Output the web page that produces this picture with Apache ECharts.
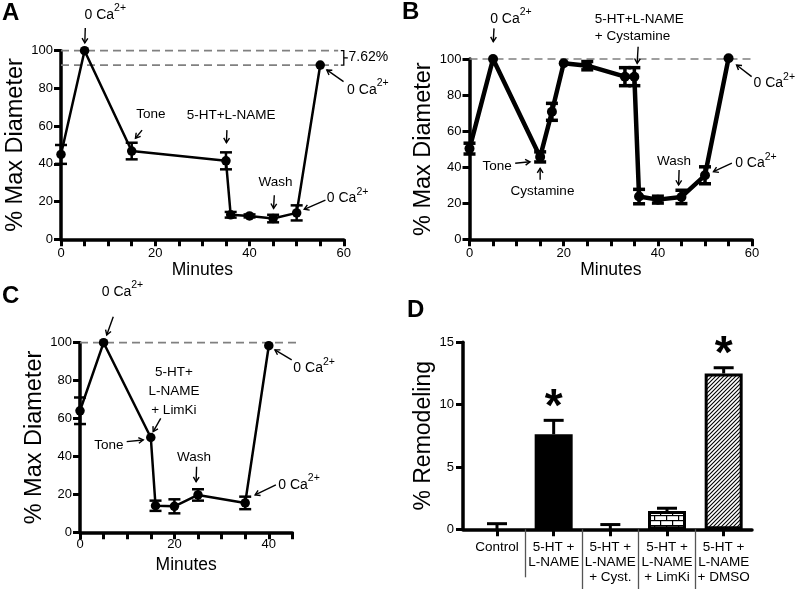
<!DOCTYPE html>
<html><head><meta charset="utf-8">
<script src="https://cdn.jsdelivr.net/npm/echarts@6/dist/echarts.min.js"></script>
<style>html,body{margin:0;padding:0;background:#fff}#c{width:798px;height:589px}</style>
</head><body><div id="c"></div>
<script>
// ---------------- data ----------------
const minutesA = [0, 5, 15, 35, 36, 40, 45, 50, 55];
const diamA    = [45, 100, 46.8, 41.6, 13, 12.4, 11, 14, 92.4];
const errA     = [5, 0, 4.4, 4.5, 1.5, 0.8, 2, 4, 0];

const minutesB = [0, 5, 15, 17.5, 20, 25, 33, 35, 36, 40, 45, 50, 55];
const diamB    = [50.3, 100, 45.7, 70.7, 97.6, 96.3, 90.2, 90.2, 23.7, 22, 23.5, 35.5, 100.4];
const errB     = [3, 0, 2.8, 4.7, 0, 2.3, 5, 5, 4, 1.9, 3.7, 4.7, 0];

const minutesC = [0, 5, 15, 16, 20, 25, 35, 40];
const diamC    = [64.1, 100, 50, 14, 13.7, 19.7, 15.5, 98.4];
const errC     = [7, 0, 0, 2.7, 3.7, 3, 3.3, 0];

const groupsD   = ['Control', '5-HT +\nL-NAME', '5-HT +\nL-NAME\n+ Cyst.', '5-HT +\nL-NAME\n+ LimKi', '5-HT +\nL-NAME\n+ DMSO'];
const remodelD  = [0, 7.62, 0, 1.47, 12.5];
const errD      = [0.45, 1.12, 0.38, 0.22, 0.46];
const sigD      = [false, true, false, false, true];

const refLevelsA = [100, 92.38];   // dashed reference levels (A)
const refLevelB  = [100];
const refLevelC  = [100];
const gapLabelA  = '7.62%';

const yTicksPct  = [0, 20, 40, 60, 80, 100];
const yTicksD    = [0, 5, 10, 15];
const xTicks60   = [0, 5, 10, 15, 20, 25, 30, 35, 40, 45, 50, 55, 60];
const xTicks45   = [0, 5, 10, 15, 20, 25, 30, 35, 40, 45];
const xLabels60  = [0, 20, 40, 60];
const xLabels45  = [0, 20, 40];
const xTicksD    = [0, 1, 2, 3, 4];

// annotation texts (positions in data units)
const notesA = [
  {t: 9.4,  v: 118.9, text: '0 Ca', sup: '2+'},
  {t: 60.7, v: 79.2,  text: '0 Ca', sup: '2+', align: 'left'},
  {t: 56.4, v: 21.7,  text: '0 Ca', sup: '2+', align: 'left'},
  {t: 19.05, v: 66.4, text: 'Tone'},
  {t: 36.1, v: 65.9,  text: '5-HT+L-NAME'},
  {t: 45.5, v: 30.4,  text: 'Wash'},
  {t: 61.0, v: 96.4,  text: gapLabelA, align: 'left', size: 14}
];
const arrowsA = [[5.15,112,5.05,104.1],[17.2,57.9,15.8,53.6],[35.2,57.9,35.1,51.2],[45.25,23.4,45.1,16.4],[56.1,20.8,51.6,15.9],[59.95,83.6,56.4,89.8]];

const notesB = [
  {t: 8.8,  v: 122.2, text: '0 Ca', sup: '2+'},
  {t: 60.3, v: 86.5,  text: '0 Ca', sup: '2+', align: 'left'},
  {t: 56.4, v: 42.2,  text: '0 Ca', sup: '2+', align: 'left'},
  {t: 26.6, v: 117.5, text: '5-HT+L-NAME\n+ Cystamine', align: 'left', lh: 17},
  {t: 5.85, v: 40.7,  text: 'Tone'},
  {t: 15.5, v: 26.8,  text: 'Cystamine'},
  {t: 43.4, v: 43.4,  text: 'Wash'}
];
const arrowsB = [[5.2,117,5.05,109.6],[35.8,106.8,35.6,97.6],[59.9,90.2,56.7,96.7],[9.7,42.2,12.85,43],[15,33,15,39.4],[44.5,38.4,44.4,30.1],[55.7,42.2,51.8,37.5]];

const notesC = [
  {t: 9.0,  v: 126.9, text: '0 Ca', sup: '2+'},
  {t: 45.2, v: 86.5,  text: '0 Ca', sup: '2+', align: 'left'},
  {t: 42.0, v: 24.9,  text: '0 Ca', sup: '2+', align: 'left'},
  {t: 19.9, v: 74.6,  text: '5-HT+\nL-NAME\n+ LimKi', lh: 19},
  {t: 6.1,  v: 46,    text: 'Tone'},
  {t: 24.15, v: 39.5, text: 'Wash'}
];
const arrowsC = [[7.05,113.7,5.66,104.1],[17.1,60.1,15.5,53.1],[9.9,47.8,13.4,48.7],[24.7,34.6,24.6,26.7],[41.5,25,37.1,19.7],[44.85,90.9,41.3,96.2]];

// ---------------- helpers ----------------
const FONT = '"Liberation Sans", Arial, Helvetica, sans-serif';
const zip = (...arrs) => arrs[0].map((_, i) => arrs.map(a => a[i]));

function grid(left, top, width, height) {
  return {left, top, width, height, containLabel: false, outerBoundsMode: 'none'};
}
function axisLine() { return {show: true, onZero: false, lineStyle: {color: '#000', width: 3.5}}; }
function ticks(vals) {
  return {show: true, inside: false, length: 7, lineStyle: {color: '#000', width: 3}, customValues: vals};
}

function minutesAxis(gi, max, tickVals, labelVals, gap, margin) {
  return {type: 'value', gridIndex: gi, min: 0, max: max, interval: 5, position: 'bottom',
    name: 'Minutes', nameLocation: 'middle', nameGap: gap,
    nameTextStyle: {fontSize: 17.5, color: '#000', fontFamily: FONT},
    axisLine: axisLine(), axisTick: ticks(tickVals),
    axisLabel: {color: '#000', fontSize: 13, fontFamily: FONT, margin: margin,
      showMinLabel: true, showMaxLabel: true, customValues: labelVals},
    splitLine: {show: false}};
}
function pctAxis(gi) {
  return {type: 'value', gridIndex: gi, min: 0, max: 100, interval: 20, position: 'left',
    name: '% Max Diameter', nameLocation: 'middle', nameGap: 27,
    nameTextStyle: {fontSize: 23.5, color: '#000', fontFamily: FONT},
    axisLine: axisLine(), axisTick: ticks(yTicksPct),
    axisLabel: {color: '#000', fontSize: 13, fontFamily: FONT, margin: 8,
      showMinLabel: true, showMaxLabel: true, customValues: yTicksPct},
    splitLine: {show: false}};
}
function sepAxis(vals, len) {
  return {type: 'value', gridIndex: 3, min: -0.6, max: 4.5, position: 'bottom',
    axisLine: {show: false, onZero: false},
    axisTick: {show: true, inside: false, length: len, lineStyle: {color: '#555', width: 1.3}, customValues: vals},
    axisLabel: {show: false}, splitLine: {show: false}};
}

function errRender(cap, lw, upOnly, sig) {
  return function (params, api) {
    const x = api.value(0), y = api.value(1), e = api.value(2);
    const children = [];
    const top = api.coord([x, y + e]);
    const bot = api.coord([x, upOnly ? y : y - e]);
    const st = {stroke: '#000', lineWidth: lw};
    if (e > 0) {
      children.push({type: 'line', shape: {x1: top[0], y1: top[1], x2: bot[0], y2: bot[1]}, style: st});
      children.push({type: 'line', shape: {x1: top[0] - cap, y1: top[1], x2: top[0] + cap, y2: top[1]}, style: st});
      if (!upOnly) children.push({type: 'line', shape: {x1: bot[0] - cap, y1: bot[1], x2: bot[0] + cap, y2: bot[1]}, style: st});
    }
    if (sig && sig[params.dataIndex]) {
      children.push({type: 'text', x: top[0], y: top[1] - 12,
        style: {text: '*', fill: '#000', fontSize: 46, fontWeight: 'bold', fontFamily: FONT, align: 'center', verticalAlign: 'middle'}});
    }
    return {type: 'group', children: children};
  };
}
function arrowRender(params, api) {
  const p1 = api.coord([api.value(0), api.value(1)]);
  const p2 = api.coord([api.value(2), api.value(3)]);
  const ang = Math.atan2(p2[1] - p1[1], p2[0] - p1[0]);
  const h = 5.5, a = 0.55;
  const l = [p2[0] - h * Math.cos(ang - a), p2[1] - h * Math.sin(ang - a)];
  const r = [p2[0] - h * Math.cos(ang + a), p2[1] - h * Math.sin(ang + a)];
  return {type: 'group', children: [
    {type: 'line', shape: {x1: p1[0], y1: p1[1], x2: p2[0], y2: p2[1]}, style: {stroke: '#000', lineWidth: 1.4}},
    {type: 'polyline', shape: {points: [l, p2, r]}, style: {stroke: '#000', fill: null, lineWidth: 1.4}}
  ]};
}
function noteRender(notes) {
  return function (params, api) {
    const n = notes[params.dataIndex];
    const p = api.coord([api.value(0), api.value(1)]);
    let style;
    if (n.sup) {
      style = {text: '{m|' + n.text + '}{s|' + n.sup + '}',
        rich: {m: {fontSize: 14, fontFamily: FONT, lineHeight: 24, fill: '#000'},
               s: {fontSize: 10.5, fontFamily: FONT, lineHeight: 10, verticalAlign: 'top', fill: '#000'}}};
    } else {
      style = {text: n.text, fontSize: n.size || 13.5, fontFamily: FONT, lineHeight: n.lh || 16};
    }
    style.fill = '#000';
    style.align = n.align || 'center';
    style.verticalAlign = 'middle';
    return {type: 'text', x: p[0], y: p[1], style: style};
  };
}
function dashRender(xEnd) {
  return function (params, api) {
    const v = api.value(0);
    const a = api.coord([0, v]), b = api.coord([xEnd, v]);
    return {type: 'line', shape: {x1: a[0], y1: a[1], x2: b[0], y2: b[1]},
      style: {stroke: '#808080', lineWidth: 1.7, lineDash: [8, 5]}};
  };
}
function bracketRender(params, api) {
  const x = api.value(0), hi = api.value(1), lo = api.value(2);
  const a = api.coord([x, hi]), b = api.coord([x, lo]);
  const m = (a[1] + b[1]) / 2;
  const st = {stroke: '#000', lineWidth: 1.3, fill: null};
  return {type: 'group', children: [
    {type: 'polyline', shape: {points: [[a[0] - 3, a[1]], [a[0], a[1]], [b[0], b[1]], [b[0] - 3, b[1]]]}, style: st},
    {type: 'line', shape: {x1: a[0], y1: m, x2: a[0] + 4, y2: m}, style: st}
  ]};
}

function panelSeries(gi, xs, ys, es, lw, sym, capLw, notes, arrows, refs, dashEnd) {
  return [
    {type: 'custom', xAxisIndex: gi, yAxisIndex: gi, data: refs.map(v => [v]), renderItem: dashRender(dashEnd), z: 1, silent: true},
    {type: 'line', xAxisIndex: gi, yAxisIndex: gi, data: zip(xs, ys), symbol: 'circle', symbolSize: sym,
      lineStyle: {color: '#000', width: lw}, itemStyle: {color: '#000'}, clip: false, z: 3, silent: true},
    {type: 'custom', xAxisIndex: gi, yAxisIndex: gi, data: zip(xs, ys, es), renderItem: errRender(6, capLw, false), z: 4, silent: true},
    {type: 'custom', xAxisIndex: gi, yAxisIndex: gi, data: notes.map(n => [n.t, n.v]), renderItem: noteRender(notes), z: 5, silent: true},
    {type: 'custom', xAxisIndex: gi, yAxisIndex: gi, data: arrows, renderItem: arrowRender, z: 5, silent: true}
  ];
}

function hatchPattern() {
  const n = 4, c = document.createElement('canvas');
  c.width = n; c.height = n;
  const g = c.getContext('2d');
  g.fillStyle = '#fff'; g.fillRect(0, 0, n, n);
  g.strokeStyle = '#000'; g.lineWidth = 1.1;
  g.beginPath();
  g.moveTo(-1, n + 1); g.lineTo(n + 1, -1);
  g.moveTo(-1, 1); g.lineTo(1, -1);
  g.moveTo(n - 1, n + 1); g.lineTo(n + 1, n - 1);
  g.stroke();
  return {image: c, repeat: 'repeat'};
}
function brickPattern() {
  const w = 12, h = 10, c = document.createElement('canvas');
  c.width = w; c.height = h;
  const g = c.getContext('2d');
  g.fillStyle = '#fff'; g.fillRect(0, 0, w, h);
  g.fillStyle = '#000';
  g.fillRect(0, 0, w, 1.2); g.fillRect(0, 5, w, 1.2);
  g.fillRect(0, 0, 1.2, 5); g.fillRect(6, 5, 1.2, 5);
  return {image: c, repeat: 'repeat'};
}

// ---------------- chart ----------------
const chart = echarts.init(document.getElementById('c'), null, {renderer: 'canvas'});
const barFills = ['#000', '#000', '#000', brickPattern(), hatchPattern()];

const option = {
  animation: false,
  backgroundColor: '#fff',
  textStyle: {fontFamily: FONT},
  graphic: [
    {type: 'text', x: 2, y: 13, style: {text: 'A', fontSize: 24, fontWeight: 'bold', fontFamily: FONT, fill: '#000', verticalAlign: 'middle'}},
    {type: 'text', x: 402, y: 12, style: {text: 'B', fontSize: 24, fontWeight: 'bold', fontFamily: FONT, fill: '#000', verticalAlign: 'middle'}},
    {type: 'text', x: 2, y: 296.5, style: {text: 'C', fontSize: 24, fontWeight: 'bold', fontFamily: FONT, fill: '#000', verticalAlign: 'middle'}},
    {type: 'text', x: 407, y: 310, style: {text: 'D', fontSize: 24, fontWeight: 'bold', fontFamily: FONT, fill: '#000', verticalAlign: 'middle'}}
  ],
  grid: [
    grid(61, 50.7, 282.8, 188.6),
    grid(469.5, 59, 282.6, 180.3),
    grid(80, 342.7, 212.4, 189.6),
    grid(463, 342.3, 289, 187)
  ],
  xAxis: [
    minutesAxis(0, 60, xTicks60, xLabels60, 16.5, 8),
    minutesAxis(1, 60, xTicks60, xLabels60, 16.5, 8),
    minutesAxis(2, 45, xTicks45, xLabels45, 24, 6),
    {type: 'value', gridIndex: 3, min: -0.6, max: 4.5, position: 'bottom',
      axisLine: axisLine(), axisTick: ticks(xTicksD),
      axisLabel: {color: '#000', fontSize: 13.5, fontFamily: FONT, lineHeight: 15, margin: 10,
        customValues: xTicksD, formatter: v => groupsD[Math.round(v)]},
      splitLine: {show: false}},
    sepAxis([0.5], 48),
    sepAxis([1.5, 2.5, 3.5], 60)
  ],
  yAxis: [
    pctAxis(0), pctAxis(1), pctAxis(2),
    {type: 'value', gridIndex: 3, min: 0, max: 15, interval: 5, position: 'left',
      name: '% Remodeling', nameLocation: 'middle', nameGap: 20,
      nameTextStyle: {fontSize: 23, color: '#000', fontFamily: FONT},
      axisLine: axisLine(), axisTick: ticks(yTicksD),
      axisLabel: {color: '#000', fontSize: 13, fontFamily: FONT, margin: 9, customValues: yTicksD},
      splitLine: {show: false}}
  ],
  series: [].concat(
    panelSeries(0, minutesA, diamA, errA, 2.5, 9.5, 2.5, notesA, arrowsA, refLevelsA, 58.8),
    [{type: 'custom', xAxisIndex: 0, yAxisIndex: 0, data: [[60, refLevelsA[0], refLevelsA[1]]], renderItem: bracketRender, z: 5, silent: true}],
    panelSeries(1, minutesB, diamB, errB, 4.5, 10, 3.5, notesB, arrowsB, refLevelB, 60.2),
    panelSeries(2, minutesC, diamC, errC, 2.5, 9.5, 2.5, notesC, arrowsC, refLevelC, 46.6),
    [
      {type: 'bar', xAxisIndex: 3, yAxisIndex: 3, barWidth: 38, silent: true, z: 2,
        data: remodelD.map((v, i) => ({value: [i, v],
          itemStyle: {color: barFills[i], borderColor: '#000', borderWidth: v > 0 ? 3 : 0}}))},
      {type: 'custom', xAxisIndex: 3, yAxisIndex: 3, data: zip(remodelD.map((_, i) => i), remodelD, errD),
        renderItem: errRender(10, 3, true, sigD), z: 4, silent: true}
    ]
  )
};
chart.setOption(option);
</script>
</body></html>
